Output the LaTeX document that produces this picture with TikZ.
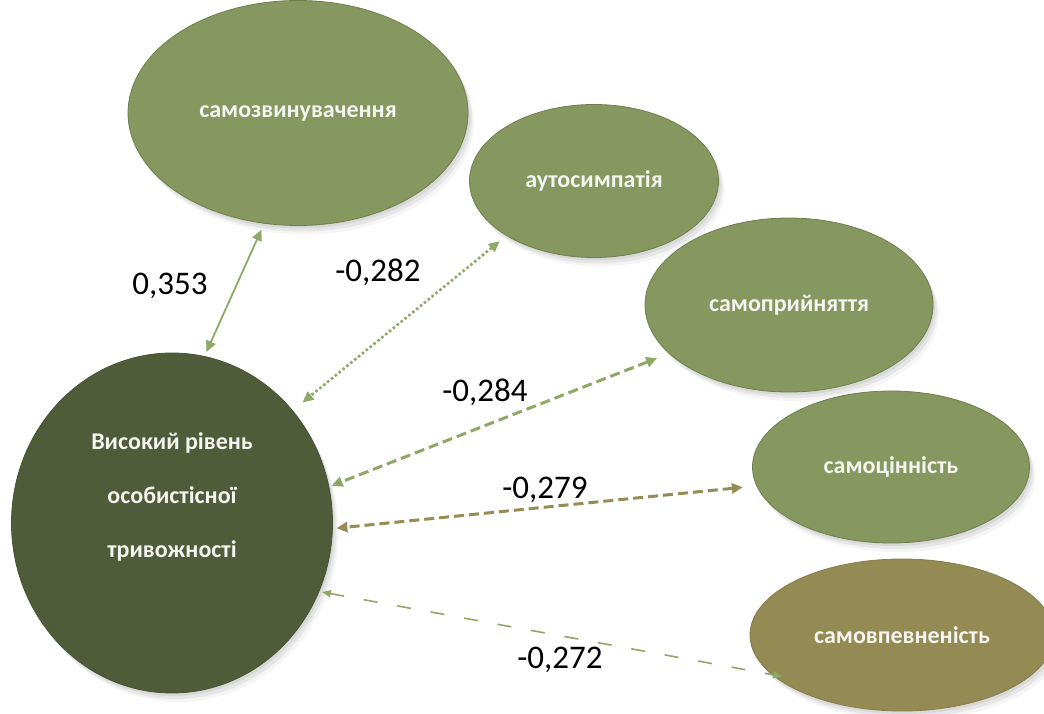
\documentclass[tikz,border=0pt]{standalone}
\usepackage{fontspec}
\setmainfont{Carlito}
\usepackage{tikz}
\usetikzlibrary{shapes.geometric,arrows.meta,shadows}
\definecolor{bg}{HTML}{FFFFFF}
\definecolor{leaf}{HTML}{86975F}
\definecolor{leafedge}{HTML}{6F7F4C}
\definecolor{core}{HTML}{4F5B39}
\definecolor{coreedge}{HTML}{48532F}
\definecolor{olive}{HTML}{948A54}
\definecolor{oliveedge}{HTML}{877D4A}
\definecolor{link}{HTML}{8EA866}
\definecolor{linkol}{HTML}{968C55}
\definecolor{paper}{HTML}{F4F4F0}
\definecolor{ink}{HTML}{000000}
\tikzset{
  soft/.style={
    general shadow={shadow xshift=2pt, shadow yshift=-3pt, fill=black, opacity=.06},
    general shadow={shadow xshift=4pt, shadow yshift=-6pt, fill=black, opacity=.06},
    general shadow={shadow xshift=6pt, shadow yshift=-9pt, fill=black, opacity=.04}},
  blob/.style={ellipse, inner sep=0pt, outer sep=0pt, fill=leaf, draw=leafedge,
    line width=0.8pt, text=paper, font=\bfseries\fontsize{24}{28}\selectfont, soft},
  coretext/.style={text=paper, align=center, font=\bfseries\fontsize{24}{54}\selectfont},
  val/.style={text=ink, font=\fontsize{33}{33}\selectfont},
  twohead/.style={<->, >={Triangle[length=11pt,width=10pt]}},
  tie/.style={twohead, draw=link, line width=1.8pt},
  dotlink/.style={twohead, draw=link, line width=2.6pt, dash pattern=on 2.6pt off 2.4pt},
  dashlink/.style={twohead, draw=link, line width=3pt, dash pattern=on 10pt off 5pt},
  dashol/.style={twohead, draw=linkol, line width=3pt, dash pattern=on 10pt off 5pt},
  longdash/.style={<->, >={Triangle[length=9pt,width=7pt]}, draw=link, line width=1.6pt,
    dash pattern=on 14pt off 20pt},
}
\begin{document}
\begin{tikzpicture}[x=1pt, y=1pt]
\useasboundingbox[fill=bg] (0,0) rectangle (1044,713);
\clip (0,0) rectangle (1044,713);
% outer scales
\node[blob, minimum width=340, minimum height=225] (selfblame) at (298,600) {самозвинувачення};
\node[blob, minimum width=249, minimum height=153] (autosym) at (594,532) {аутосимпатія};
\node[blob, minimum width=288, minimum height=174] (selfacc) at (789,408) {самоприйняття};
\node[blob, minimum width=277, minimum height=152] (selfworth) at (891,246) {самоцінність};
\node[blob, fill=olive, draw=oliveedge, minimum width=304, minimum height=152] (selfconf) at (902,78) {самовпевненість};
% central factor
\node[blob, fill=core, draw=coreedge, minimum width=321, minimum height=340] (anxiety) at (172,190) {};
\node[coretext] (anxietytext) at ([yshift=26pt]anxiety.center) {Високий рівень\\особистісної\\тривожності};
% correlations
\draw[tie, shorten <=7pt, shorten >=5pt] (selfblame.253) -- (anxiety.79);
\draw[dotlink, shorten <=9pt, shorten >=13pt] (autosym.212) -- (anxiety.43);
\draw[dashlink, shorten <=13pt, shorten >=3pt] (selfacc.202) -- (anxiety.13);
\draw[dashol, shorten <=14pt, shorten >=4pt] (selfworth.188) -- (anxiety.358);
\draw[longdash, shorten <=3pt, shorten >=-10pt] (anxiety.335) -- (selfconf.197);
\node[val] (r1) at (170,427) {0,353};
\node[val] (r2) at (378,441) {-0,282};
\node[val] (r3) at (485,321) {-0,284};
\node[val] (r4) at (545,223) {-0,279};
\node[val] (r5) at (560,53) {-0,272};
\end{tikzpicture}
\end{document}
